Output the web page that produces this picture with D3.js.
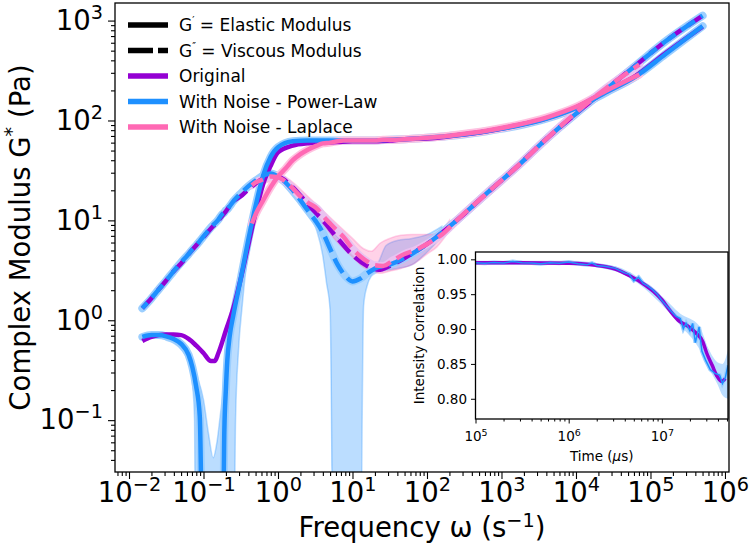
<!DOCTYPE html>
<html><head><meta charset="utf-8">
<script src="https://cdn.jsdelivr.net/npm/d3@7"></script>
<style>body{margin:0;background:#fff} svg{display:block} text{font-family:"DejaVu Sans",sans-serif;fill:#000}</style>
</head><body><svg id="c" width="750" height="552"></svg>
<script>
// ---------- DATA ----------
// Original
const origFreq = [0.0151,0.02,0.0251,0.0316,0.0398,0.0501,0.0631,0.0794,0.1,0.1259,0.1413,0.1585,0.1995,0.2512,0.3162,0.3981,0.5012,0.631,0.794,1,1.58,2.51,3.98,6.31,10,15.8,22.4,31.6,50.1,100,251,631,1585,3981,1e4,2.51e4,6.31e4,1.58e5,5.01e5];
const origGp  = [0.62,0.68,0.71,0.72,0.72,0.71,0.65,0.56,0.47,0.39,0.39,0.47,0.79,1.32,2.6,5.6,12,23,35,48,56,59,60,61,62,62,62,63,65,66,71,78,89,105,135,195,280,470,870];
const origGpp = [1.32,1.66,2.04,2.5,3.1,3.7,4.6,5.6,6.8,8.3,9.1,10,12.3,15.5,17.4,20.4,23.4,26.3,28.2,27.5,21.4,14.5,10,6.6,4.5,3.5,3.2,3.5,4.2,5.8,10,18.6,34,65,117,204,355,617,1120];
// With Noise - Power-Law (values <= 0 fall below the log axis)
const plFreq = [0.0151,0.02,0.0251,0.0316,0.0398,0.0501,0.0631,0.0708,0.0794,0.0891,0.1,0.1259,0.1585,0.1778,0.1905,0.1995,0.2089,0.2239,0.2512,0.3162,0.3981,0.5012,0.631,0.794,1,1.58,2.51,3.16,3.98,5.01,6.31,7.94,10,12.6,15.8,20,31.6,50.1,100,251,631,1585,3981,1e4,2.51e4,6.31e4,1.58e5,5.01e5];
const plGp  = [0.68,0.71,0.71,0.69,0.65,0.58,0.45,0.34,0.22,0.11,-0.05,-0.2,-0.2,-0.05,0.08,0.2,0.4,0.68,1.12,2.6,6.3,14,28,43,54,62,63,63,63,63,63,63,63,63,63,63,64,65,67,71,78,88,104,133,190,275,460,880];
const plGpp = [1.32,1.66,2.04,2.5,3.1,3.8,4.6,5.1,5.6,6.2,6.9,8.5,10.2,11.5,12,12.6,12.9,13.8,15.5,18.6,21.9,25,28,29.5,27.5,20,12.6,10,7.6,5.2,3.6,2.8,2.45,2.6,2.95,3.3,3.6,4.2,5.8,10,18.6,34,65,117,204,355,617,1120];
const plGpBandFreq = [0.0316,0.0398,0.0501,0.0631,0.0708,0.0759,0.0794,0.1,0.1175,0.1349,0.1514,0.1698,0.1862,0.1995,0.2239,0.2512,0.2692,0.2951,0.3311,0.3981,0.5012];
const plGpBandLo = [0.63,0.59,0.51,0.38,0.24,0.1,-0.05,-0.12,-0.18,-0.2,-0.2,-0.15,-0.1,-0.08,-0.05,-0.02,0.1,0.5,1.41,5,12.6];
const plGpBandHi = [0.74,0.69,0.63,0.5,0.4,0.34,0.3,0.16,0.071,0.042,0.06,0.12,0.21,0.35,0.79,1.32,1.66,2.24,3.5,7.2,15.8];
const plGppBandFreq = [1.26,1.58,2.0,2.75,3.31,3.98,4.47,5.01,5.62,6.31,7.94,10,12.6,14.1,15.8,17.8,20.9,28.2,39.8,63.1,100,158];
const plGppBandLo = [21.4,17.4,14.1,11.2,7.9,4.5,2.4,1.26,-0.05,-0.1,-0.2,-0.2,-0.1,1.41,2.24,2.75,3.0,3.16,3.3,3.6,4.8,6.9];
const plGppBandHi = [26.9,22.9,18.6,13.8,11.7,10,9.1,8.3,7.6,6.9,5.6,4.7,4.1,3.8,3.6,3.55,3.6,5.6,6.3,6.6,7.2,8.7];
// With Noise - Laplace
const lapFreq = [0.4467,0.5012,0.631,0.794,1,1.26,1.58,2.0,2.51,3.31,3.98,5.01,6.31,7.59,10,12.6,15.5,20,25.7,35.5,50.1,72.4,100,158,251,631,1585,3981,1e4,2.51e4,7.08e4];
const lapGp  = [9.3,11.5,15.8,21.4,27.5,33,40,46,51,56,59,60,62,63,63,63,63,63,64,64,65,66,67,69,72,79,90,107,137,197,288];
const lapGpp = [22.5,24,25.7,27.5,26.9,24.5,20.9,17.4,15.1,13.2,11.2,9.3,7.8,6.8,5.2,4.4,3.9,3.55,3.5,4.0,4.6,5.1,5.8,7.2,10,18.6,34,65,120,209,363];
const lapBandFreq = [0.631,1,1.58,2.51,3.98,6.31,10,14.1,17.8,23.4,31.6,44.7,63.1,100,135,200];
const lapBandLo = [23.4,25.1,18.6,12.6,9.1,6.0,4.3,3.4,3.1,2.95,3.1,3.3,3.6,4.6,5.4,7.9];
const lapBandHi = [28.2,29.5,24,17.4,12.6,9.1,6.6,5.2,4.9,5.9,6.6,7.1,7.2,7.2,7.4,10];
// Inset: intensity correlation vs time (µs)
const insetOrigTime = [1e5,3.16e5,1e6,1.58e6,2.34e6,3.16e6,4.57e6,6.31e6,8.13e6,1e7,1.23e7,1.55e7,1.86e7,2.34e7,2.75e7,3.02e7,3.47e7,3.89e7,4.37e7,4.79e7];
const insetOrig = [0.995,0.995,0.9945,0.993,0.990,0.986,0.976,0.965,0.954,0.942,0.926,0.911,0.905,0.894,0.882,0.866,0.848,0.833,0.825,0.829];
const insetNoiseTime = [1e5,1.26e5,1.58e5,2e5,2.51e5,3.16e5,3.98e5,5.01e5,6.31e5,7.94e5,1e6,1.26e6,1.58e6,1.78e6,2e6,2.51e6,3.16e6,3.98e6,4.47e6,5.01e6,5.62e6,6.31e6,7.08e6,7.94e6,8.91e6,1e7,1.12e7,1.26e7,1.41e7,1.58e7,1.7e7,1.82e7,2e7,2.14e7,2.29e7,2.51e7,2.69e7,2.95e7,3.31e7,3.72e7,4.17e7,4.47e7,4.79e7,5.13e7];
const insetNoise = [0.995,0.9942,0.9953,0.9947,0.9968,0.995,0.9946,0.9936,0.9952,0.9944,0.996,0.9938,0.9922,0.9946,0.9912,0.9898,0.987,0.9805,0.9785,0.9695,0.9742,0.9655,0.9615,0.9565,0.95,0.941,0.9335,0.9255,0.9185,0.915,0.9005,0.9085,0.8975,0.908,0.8805,0.903,0.8685,0.8555,0.842,0.8365,0.834,0.822,0.83,0.848];
const insetBandTime = [1e5,1e6,3.16e6,1e7,1.58e7,2.51e7,3.16e7,3.98e7,4.47e7,5.13e7];
const insetBandLo = [0.992,0.992,0.983,0.935,0.905,0.872,0.845,0.82,0.805,0.80];
const insetBandHi = [0.998,0.998,0.990,0.947,0.922,0.905,0.872,0.852,0.85,0.87];
// ticks / labels
const xTickExps = [-2,-1,0,1,2,3,4,5,6];
const yTickExps = [-1,0,1,2,3];
const insetXExps = [5,6,7];
const insetYTicks = [0.80,0.85,0.90,0.95,1.00];
const legendItems = [
  {prime:"′", text:" = Elastic Modulus", color:"#000", dash:null},
  {prime:"″", text:" = Viscous Modulus", color:"#000", dash:"25,5"},
  {text:"Original", color:"#9400D3", dash:null},
  {text:"With Noise - Power-Law", color:"#1E90FF", dash:null},
  {text:"With Noise - Laplace", color:"#FF69B4", dash:null}
];

// ---------- CHART ----------
const PURPLE="#9400D3", BLUE="#1E90FF", PINK="#FF69B4";
const svg = d3.select('#c');
const L=115,R=729,T=3,B=472;
const x = d3.scaleLog().domain([Math.pow(10,-2.188), Math.pow(10,6.054)]).range([L,R]);
const y = d3.scaleLog().domain([Math.pow(10,-1.519), Math.pow(10,3.176)]).range([B,T]);
const yy = v => v > 0 ? y(v) : B + 150;
svg.append('defs').append('clipPath').attr('id','mc').append('rect')
  .attr('x',L).attr('y',T).attr('width',R-L).attr('height',B-T);
const g = svg.append('g').attr('clip-path','url(#mc)');

function pathLine(xs, vs){
  return d3.line().x(d=>x(d[0])).y(d=>yy(d[1])).curve(d3.curveMonotoneX)(xs.map((f,i)=>[f,vs[i]]));
}
function pathArea(xs, lo, hi){
  return d3.area().x(d=>x(d[0])).y0(d=>yy(d[1])).y1(d=>yy(d[2])).curve(d3.curveMonotoneX)(xs.map((f,i)=>[f,lo[i],hi[i]]));
}
// bands
[[plGpBandFreq,plGpBandLo,plGpBandHi,BLUE],[plGppBandFreq,plGppBandLo,plGppBandHi,BLUE],[lapBandFreq,lapBandLo,lapBandHi,PINK]]
 .forEach(([f,lo,hi,c])=>{
   g.append('path').attr('d',pathArea(f,lo,hi)).attr('fill',c).attr('fill-opacity',0.3)
    .attr('stroke',c).attr('stroke-opacity',0.3).attr('stroke-width',1.5);
 });
// halos
[[plFreq,plGp,'#9ccfff'],[plFreq,plGpp,'#9ccfff'],[lapFreq,lapGp,'#ffc2e0'],[lapFreq,lapGpp,'#e9c2f0']].forEach(([f,v,c])=>{
  g.append('path').attr('d',pathLine(f,v)).attr('fill','none').attr('stroke',c).attr('stroke-width',8).attr('stroke-linecap','round');
});
function drawLine(f,v,c,dashed,offset){
  const p = g.append('path').attr('d',pathLine(f,v)).attr('fill','none').attr('stroke',c).attr('stroke-width',4.5);
  if(dashed) p.attr('stroke-dasharray','16.5,7').attr('stroke-dashoffset',offset||0);
}
drawLine(origFreq,origGp,PURPLE,false);
drawLine(origFreq,origGpp,PURPLE,true,0);
drawLine(plFreq,plGp,BLUE,false);
drawLine(plFreq,plGpp,BLUE,true,9);
drawLine(lapFreq,lapGp,PINK,false);
drawLine(lapFreq,lapGpp,PINK,true,4);

// frame
svg.append('rect').attr('x',L).attr('y',T).attr('width',R-L).attr('height',B-T).attr('fill','none').attr('stroke','#000').attr('stroke-width',1.3);

// axes ticks
const FS=27.5;
function supText(sel, exp, size){
  sel.text(null);
  sel.append('tspan').text('10');
  sel.append('tspan').attr('dy', -0.4*size).attr('font-size', size*0.7).text(exp<0?'−'+Math.abs(exp):String(exp));
}
function minorTicks(scale, lo, hi){
  const [a,b]=scale.domain(); const out=[];
  for(let e=lo;e<=hi;e++) for(let m=2;m<=9;m++){const v=m*Math.pow(10,e); if(v>=a && v<=b) out.push(v);}
  return out;
}
const xMinor = svg.append('g').attr('transform',`translate(0,${B})`)
  .call(d3.axisBottom(x).tickValues(minorTicks(x,-3,6)).tickSize(4).tickFormat(''));
const xMajor = svg.append('g').attr('transform',`translate(0,${B})`)
  .call(d3.axisBottom(x).tickValues(xTickExps.map(e=>Math.pow(10,e))).tickSize(7).tickPadding(4));
xMajor.selectAll('.tick text').attr('font-size',FS).attr('font-family','DejaVu Sans').attr('dy',null).attr('y',null)
  .attr('transform',`translate(0,29.5)`).each(function(d,i){ supText(d3.select(this), xTickExps[i], FS); });
const yMinor = svg.append('g').attr('transform',`translate(${L},0)`)
  .call(d3.axisLeft(y).tickValues(minorTicks(y,-2,3)).tickSize(4).tickFormat(''));
const yMajor = svg.append('g').attr('transform',`translate(${L},0)`)
  .call(d3.axisLeft(y).tickValues(yTickExps.map(e=>Math.pow(10,e))).tickSize(7).tickPadding(5));
yMajor.selectAll('.tick text').attr('font-size',FS).attr('font-family','DejaVu Sans').attr('dy','0.32em')
  .each(function(d,i){ supText(d3.select(this), yTickExps[i], FS); });
[xMinor,xMajor,yMinor,yMajor].forEach(a=>{a.select('.domain').remove(); a.selectAll('.tick line').attr('stroke','#000').attr('stroke-width',1.1);});

// axis labels
const xl = svg.append('text').attr('x',(L+R)/2).attr('y',537).attr('text-anchor','middle').attr('font-size',FS);
xl.append('tspan').text('Frequency ω (s');
xl.append('tspan').attr('dy',-0.36*FS).attr('font-size',FS*0.7).text('−1');
xl.append('tspan').attr('dy',0.36*FS).text(')');
const yl = svg.append('text').attr('transform',`translate(30,${(T+B)/2}) rotate(-90)`).attr('text-anchor','middle').attr('font-size',FS);
yl.append('tspan').text('Complex Modulus G');
yl.append('tspan').attr('dy',-0.42*FS).attr('font-size',FS*0.7).text('*');
yl.append('tspan').attr('dy',0.42*FS).text(' (Pa)');

// legend
const lg = svg.append('g');
legendItems.forEach((it,i)=>{
  const cy = 25 + i*25.5;
  const ln = lg.append('line').attr('x1',128).attr('x2',168).attr('y1',cy).attr('y2',cy).attr('stroke',it.color).attr('stroke-width',5.5);
  if(it.dash) ln.attr('stroke-dasharray',it.dash);
  const t = lg.append('text').attr('x',179).attr('y',cy+6).attr('font-size',17);
  if(it.prime){ t.append('tspan').text('G'); t.append('tspan').attr('font-size',10).attr('dy',-7).text(it.prime); t.append('tspan').attr('dy',7).text(it.text); }
  else t.text(it.text);
});

// ---------- INSET ----------
const iL=475.5,iR=728,iT=252,iB=419;
const ix = d3.scaleLog().domain([1e5, Math.pow(10,7.71)]).range([iL,iR]);
const iy = d3.scaleLinear().domain([0.771,1.0105]).range([iB,iT]);
svg.append('rect').attr('x',iL).attr('y',iT).attr('width',iR-iL).attr('height',iB-iT).attr('fill','#fff');
svg.select('defs').append('clipPath').attr('id','ic').append('rect').attr('x',iL).attr('y',iT).attr('width',iR-iL).attr('height',iB-iT);
const ig = svg.append('g').attr('clip-path','url(#ic)');
const iline = (t,v)=>d3.line().x(d=>ix(d[0])).y(d=>iy(d[1]))(t.map((tt,i)=>[tt,v[i]]));
ig.append('path').attr('d', d3.area().x(d=>ix(d[0])).y0(d=>iy(d[1])).y1(d=>iy(d[2])).curve(d3.curveMonotoneX)(insetBandTime.map((t,i)=>[t,insetBandLo[i],insetBandHi[i]])))
  .attr('fill',BLUE).attr('fill-opacity',0.3);
ig.append('path').attr('d',iline(insetNoiseTime,insetNoise)).attr('fill','none').attr('stroke','#9ccfff').attr('stroke-width',4);
ig.append('path').attr('d',d3.line().x(d=>ix(d[0])).y(d=>iy(d[1])).curve(d3.curveMonotoneX)(insetOrigTime.map((t,i)=>[t,insetOrig[i]])))
  .attr('fill','none').attr('stroke',PURPLE).attr('stroke-width',3.5);
ig.append('path').attr('d',iline(insetNoiseTime,insetNoise)).attr('fill','none').attr('stroke',BLUE).attr('stroke-width',1.5);
svg.append('rect').attr('x',iL).attr('y',iT).attr('width',iR-iL).attr('height',iB-iT).attr('fill','none').attr('stroke','#000').attr('stroke-width',1.3);
const IFS=13.5;
const ixMinor = svg.append('g').attr('transform',`translate(0,${iB})`).call(d3.axisBottom(ix).tickValues(minorTicks(ix,5,7)).tickSize(2.5).tickFormat(''));
const ixMajor = svg.append('g').attr('transform',`translate(0,${iB})`).call(d3.axisBottom(ix).tickValues(insetXExps.map(e=>Math.pow(10,e))).tickSize(4.5).tickPadding(3));
ixMajor.selectAll('.tick text').attr('font-size',IFS).attr('font-family','DejaVu Sans').attr('dy',null).attr('y',null)
  .attr('transform','translate(0,22)').each(function(d,i){ supText(d3.select(this), insetXExps[i], IFS); });
const iyAx = svg.append('g').attr('transform',`translate(${iL},0)`).call(d3.axisLeft(iy).tickValues(insetYTicks).tickSize(4.5).tickPadding(4).tickFormat(d3.format('.2f')));
iyAx.selectAll('.tick text').attr('font-size',IFS).attr('font-family','DejaVu Sans');
[ixMinor,ixMajor,iyAx].forEach(a=>{a.select('.domain').remove(); a.selectAll('.tick line').attr('stroke','#000').attr('stroke-width',1);});
const itl = svg.append('text').attr('x',(iL+iR)/2).attr('y',461).attr('text-anchor','middle').attr('font-size',IFS);
itl.append('tspan').text('Time (');
itl.append('tspan').attr('font-style','italic').text('μ');
itl.append('tspan').text('s)');
svg.append('text').attr('transform',`translate(424,${(iT+iB)/2}) rotate(-90)`).attr('text-anchor','middle').attr('font-size',IFS).text('Intensity Correlation');
</script></body></html>
